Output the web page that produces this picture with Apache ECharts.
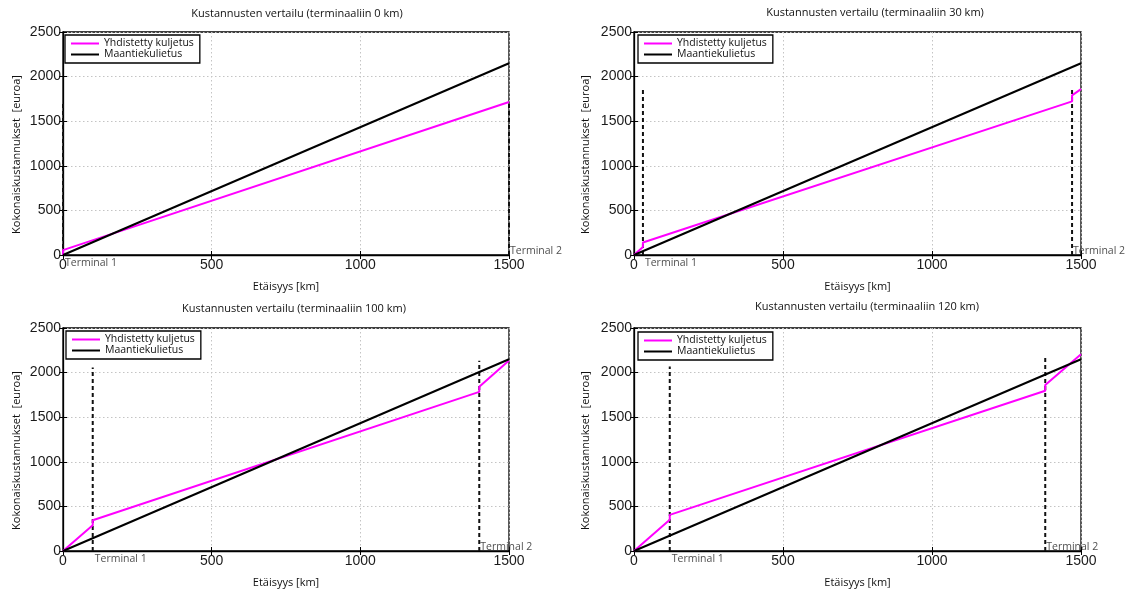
<!DOCTYPE html>
<html><head><meta charset="utf-8">
<script src="https://cdn.jsdelivr.net/npm/echarts@6/dist/echarts.min.js"></script>
<style>html,body{margin:0;padding:0;background:#fff}#c{width:1127px;height:592px}</style>
</head><body><div id="c"></div>
<script>
// ---- data ----
const chartTitles = [
  'Kustannusten vertailu (terminaaliin 0 km)',
  'Kustannusten vertailu (terminaaliin 30 km)',
  'Kustannusten vertailu (terminaaliin 100 km)',
  'Kustannusten vertailu (terminaaliin 120 km)'
];
const seriesNames = ['Yhdistetty kuljetus', 'Maantiekulietus'];
const xAxisName = 'Etäisyys [km]';
const yAxisName = 'Kokonaiskustannukset  [euroa]';
const terminalLabels = ['Terminal 1', 'Terminal 2'];

const roadX = [0, 1500];
const roadY = [0, 2150];

const combined0X = [0, 0, 1500];
const combined0Y = [0, 55, 1715];
const combined30X = [0, 30, 30, 1470, 1470, 1500];
const combined30Y = [0, 90, 140, 1722, 1790, 1860];
const combined100X = [0, 100, 100, 1400, 1400, 1500];
const combined100Y = [0, 290, 345, 1784, 1840, 2135];
const combined120X = [0, 120, 120, 1380, 1380, 1500];
const combined120Y = [0, 350, 405, 1796, 1860, 2205];

const terminals0 = [0, 1500];
const terminalTops0 = [1715, 1715];
const terminals30 = [30, 1470];
const terminalTops30 = [1865, 1883];
const terminals100 = [100, 1400];
const terminalTops100 = [2057, 2133];
const terminals120 = [120, 1380];
const terminalTops120 = [2068, 2178];

const xMin = 0, xMax = 1500, xStep = 500;
const yMin = 0, yMax = 2500, yStep = 500;

// ---- layout ----
const panels = [
  {cx: combined0X, cy: combined0Y, t: terminals0, tt: terminalTops0,
   grid: {left: 63, top: 32, width: 446, height: 223}, title: {x: 297, y: 8},
   legend: {left: 65, top: 35}, yGap: 41},
  {cx: combined30X, cy: combined30Y, t: terminals30, tt: terminalTops30,
   grid: {left: 634, top: 32, width: 447, height: 223}, title: {x: 875, y: 7},
   legend: {left: 638, top: 35}, yGap: 43},
  {cx: combined100X, cy: combined100Y, t: terminals100, tt: terminalTops100,
   grid: {left: 63, top: 328, width: 446, height: 223}, title: {x: 294, y: 303},
   legend: {left: 66, top: 331}, yGap: 41},
  {cx: combined120X, cy: combined120Y, t: terminals120, tt: terminalTops120,
   grid: {left: 634, top: 328, width: 447, height: 223}, title: {x: 867, y: 301},
   legend: {left: 638, top: 332}, yGap: 43}
];

const zip = (a, b) => a.map((v, i) => [v, b[i]]);
const numFont = 'Liberation Sans';
const txtFont = 'Open Sans';
const plain = v => String(v);

const option = {
  animation: false,
  backgroundColor: '#fff',
  title: [], legend: [], grid: [], xAxis: [], yAxis: [], series: []
};

panels.forEach((p, i) => {
  option.grid.push(Object.assign({show: true, borderColor: '#000', borderWidth: 1.3, backgroundColor: '#fff'}, p.grid));
  option.title.push({
    text: chartTitles[i], left: p.title.x, top: p.title.y, textAlign: 'center', padding: 0,
    textStyle: {fontSize: 11, fontWeight: 'normal', color: '#111', fontFamily: txtFont}
  });
  option.legend.push({
    data: seriesNames, left: p.legend.left, top: p.legend.top, orient: 'vertical',
    backgroundColor: '#fff', borderColor: '#000', borderWidth: 1.3,
    padding: [3, 6, 3, 6], itemWidth: 28, itemHeight: 2, itemGap: 0, icon: 'rect',
    textStyle: {fontSize: 10.5, color: '#111', fontFamily: txtFont}
  });
  option.xAxis.push({
    type: 'value', gridIndex: i, min: xMin, max: xMax, interval: xStep,
    axisLine: {show: true, lineStyle: {color: '#000', width: 1.3}},
    axisTick: {show: true, inside: true, length: 4, lineStyle: {color: '#000'}},
    axisLabel: {fontSize: 14, color: '#1a1a1a', margin: 3, fontFamily: numFont, formatter: plain},
    splitLine: {show: true, lineStyle: {color: '#c4c4c4', type: [1.5, 2.5], width: 1}},
    name: xAxisName, nameLocation: 'middle', nameGap: 26,
    nameTextStyle: {fontSize: 11, color: '#111', fontFamily: txtFont}
  });
  option.yAxis.push({
    type: 'value', gridIndex: i, min: yMin, max: yMax, interval: yStep,
    axisLine: {show: true, lineStyle: {color: '#000', width: 1.3}},
    axisTick: {show: true, inside: true, length: 4, lineStyle: {color: '#000'}},
    axisLabel: {fontSize: 14, color: '#1a1a1a', margin: 2, fontFamily: numFont, formatter: plain},
    splitLine: {show: true, lineStyle: {color: '#c4c4c4', type: [1.5, 2.5], width: 1}},
    name: yAxisName, nameLocation: 'middle', nameGap: p.yGap,
    nameTextStyle: {fontSize: 11, color: '#111', fontFamily: txtFont, padding: [0, 22, 0, 0]}
  });
});
// top / right tick-only axes
panels.forEach((p, i) => {
  option.xAxis.push({
    type: 'value', gridIndex: i, position: 'top', min: xMin, max: xMax, interval: xStep,
    axisLine: {show: false}, axisTick: {show: true, inside: true, length: 4, lineStyle: {color: '#000'}},
    axisLabel: {show: false}, splitLine: {show: false}
  });
  option.yAxis.push({
    type: 'value', gridIndex: i, position: 'right', min: yMin, max: yMax, interval: yStep,
    axisLine: {show: false}, axisTick: {show: true, inside: true, length: 4, lineStyle: {color: '#000'}},
    axisLabel: {show: false}, splitLine: {show: false}
  });
});

panels.forEach((p, i) => {
  // terminal dashed lines
  p.t.forEach((tx, k) => {
    option.series.push({
      type: 'line', xAxisIndex: i, yAxisIndex: i, symbol: 'none', silent: true,
      data: [[tx, 0], [tx, p.tt[k]]],
      lineStyle: {color: '#111', width: 2, type: [4, 3]}, z: 3
    });
  });
  option.series.push({
    name: seriesNames[0], type: 'line', xAxisIndex: i, yAxisIndex: i, symbol: 'none',
    data: zip(p.cx, p.cy), lineStyle: {color: '#ff00ff', width: 2}, itemStyle: {color: '#ff00ff'}, z: 4
  });
  option.series.push({
    name: seriesNames[1], type: 'line', xAxisIndex: i, yAxisIndex: i, symbol: 'none',
    data: zip(roadX, roadY), lineStyle: {color: '#000', width: 2}, itemStyle: {color: '#000'}, z: 5
  });
  option.series.push({
    type: 'scatter', xAxisIndex: i, yAxisIndex: i, symbolSize: 2, clip: false, silent: true,
    itemStyle: {color: 'rgba(0,0,0,0)'},
    labelLayout: {hideOverlap: false},
    data: p.t.map((tx, k) => ({
      value: [tx, 0],
      label: {show: true, formatter: terminalLabels[k], position: k === 0 ? [3, 9] : [2, -3],
              align: 'left', verticalAlign: 'middle', fontSize: 10.5, color: '#222', fontFamily: txtFont}
    })),
    z: 6
  });
});

const chart = echarts.init(document.getElementById('c'), null, {renderer: 'canvas'});
chart.setOption(option);
</script>
</body></html>
